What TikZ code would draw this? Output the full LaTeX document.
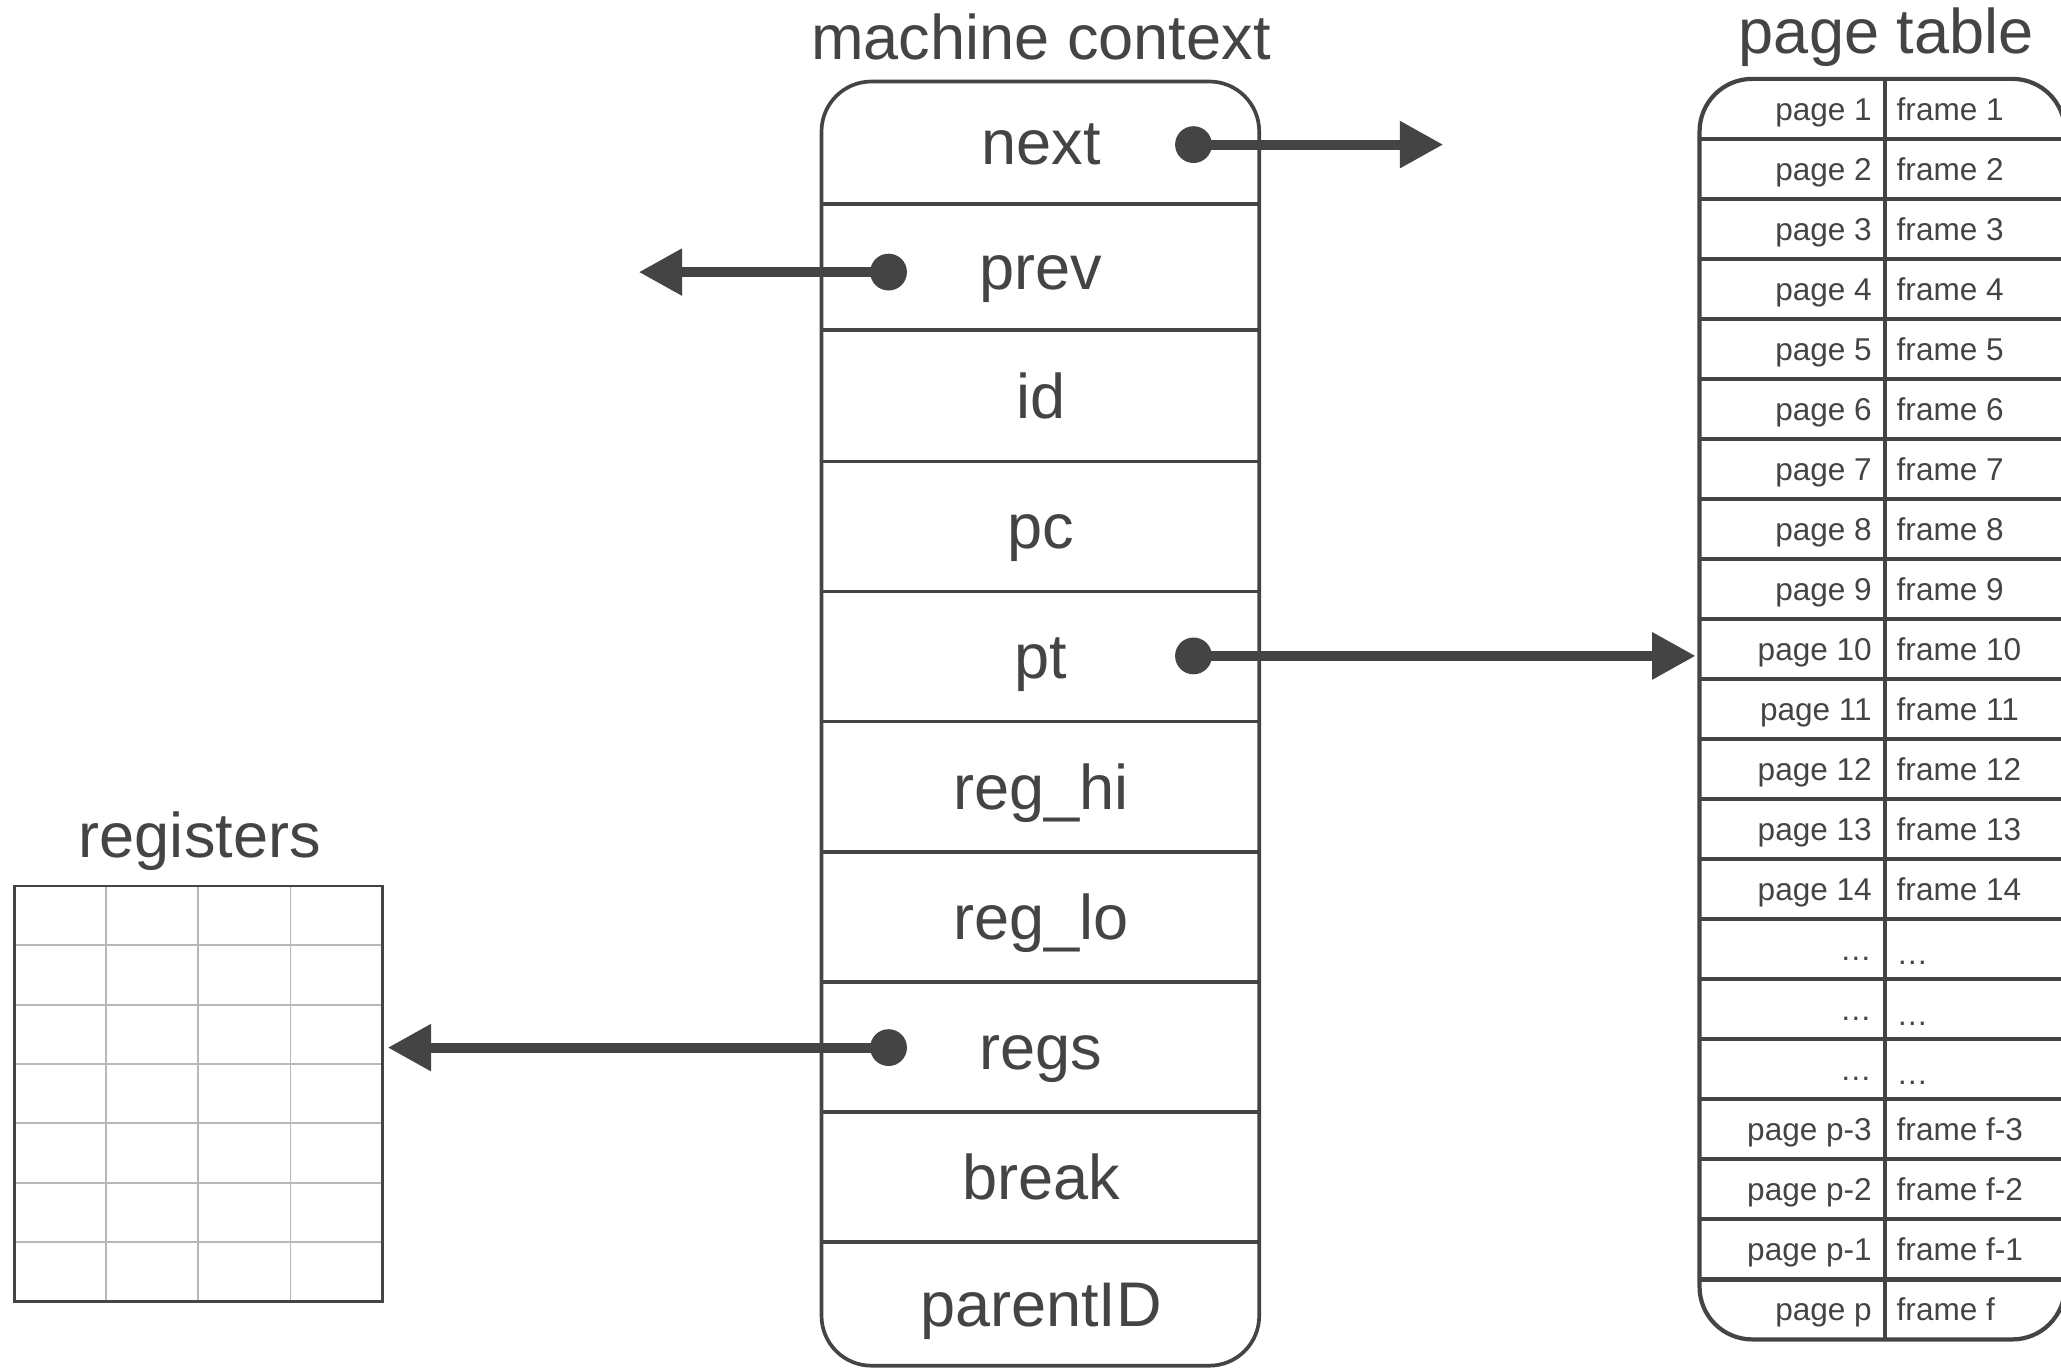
\documentclass[tikz,border=0pt]{standalone}
\usepackage{fontspec}
\setmainfont{Liberation Sans}
\usetikzlibrary{arrows.meta}
\definecolor{ink}{HTML}{444444}
\definecolor{gridgray}{HTML}{B8B8B8}
\begin{document}
\begin{tikzpicture}[x=0.5pt,y=-0.5pt,
  every node/.style={inner sep=0pt, outer sep=0pt, text=ink},
  big/.style={font=\fontsize{24pt}{28pt}\selectfont},
  small/.style={font=\fontsize{12pt}{14pt}\selectfont},
  boxline/.style={draw=ink, line width=1.4pt},
  tabline/.style={draw=ink, line width=1.6pt},
  ptr/.style={draw=ink, line width=3.75pt, -{Triangle[length=16.5pt,width=17pt]}},
  dot/.style={circle, fill=ink, minimum size=14pt},
]
\useasboundingbox (0,0) rectangle (1568,1041);
\fill[white] (0,0) rectangle (1568,1041);

% ---------------- machine context record ----------------
\node[big, anchor=base] (mctitle) at (792,45) {machine context};
\node[boxline, rounded corners=19pt, minimum width=166.5pt, minimum height=488.5pt] (mc) at (791.5,550.5) {};
\foreach \y in {155,251,351,450,549,648,747,846,945}
  \draw[boxline] (mc.west |- 0,\y) -- (mc.east |- 0,\y);
\foreach \name/\txt/\c in {next/next/108.5, prev/prev/203, id/id/301, pc/pc/400.5,
    pt/pt/499.5, reghi/reg\_hi/598.5, reglo/reg\_lo/697.5, regs/regs/796.5,
    brk/break/895.5, parent/parentID/992}
  \node[big, anchor=base] (f-\name) at (792,\c+17) {\txt};

% ---------------- pointers ----------------
\node[dot] (dnext) at (908,110) {};
\node[dot] (dprev) at (676,207) {};
\node[dot] (dpt)   at (908,499) {};
\node[dot] (dregs) at (676,797) {};
\coordinate (nextend) at (1098,110);
\coordinate (prevend) at (486,207);

% ---------------- page table ----------------
\node[big, anchor=base] (pttitle) at (1435,41) {page table};
\node[tabline, rounded corners=20pt, minimum width=139pt, minimum height=479.5pt] (ptab) at (1432,539.5) {};
\foreach \i [evaluate=\i as \yy using 60+\i*45.667] in {1,...,20}
  \draw[tabline] (ptab.west |- 0,\yy) -- (ptab.east |- 0,\yy);
\draw[tabline] (1434,0 |- ptab.north) -- (1434,0 |- ptab.south);
\foreach \pg/\fr/\dy [count=\k, evaluate=\k as \yb using 60+(\k-0.5)*45.667+8.5] in {
    page 1/frame 1/0, page 2/frame 2/0, page 3/frame 3/0, page 4/frame 4/0,
    page 5/frame 5/0, page 6/frame 6/0, page 7/frame 7/0, page 8/frame 8/0,
    page 9/frame 9/0, page 10/frame 10/0, page 11/frame 11/0, page 12/frame 12/0,
    page 13/frame 13/0, page 14/frame 14/0, …/…/3, …/…/4, …/…/3,
    page p-3/frame f-3/0, page p-2/frame f-2/0, page p-1/frame f-1/0, page p/frame f/0} {
  \node[small, anchor=base east] (pg\k) at (1424,\yb) {\pg};
  \node[small, anchor=base west] (fr\k) at (1443,\yb+\dy) {\fr};
}

% ---------------- registers ----------------
\node[big, anchor=base] (regtitle) at (152,652) {registers};
\node[minimum width=140pt, minimum height=158pt] (reggrid) at (151,832) {};
\foreach \x in {81,151,221}
  \draw[gridgray, line width=0.75pt] (\x,0 |- reggrid.north) -- (\x,0 |- reggrid.south);
\foreach \i [evaluate=\i as \yy using 674+\i*45.143] in {1,...,6}
  \draw[gridgray, line width=0.75pt] (reggrid.west |- 0,\yy) -- (reggrid.east |- 0,\yy);
\draw[ink, line width=1pt] (reggrid.south west) rectangle (reggrid.north east);

% ---------------- connectors ----------------
\draw[ptr] (dnext.center) -- (nextend);
\draw[ptr] (dprev.center) -- (prevend);
\draw[ptr, shorten >=1.5pt] (dpt.center) -- (dpt.center -| ptab.west);
\draw[ptr, shorten >=2pt] (dregs.center) -- (dregs.center -| reggrid.east);
\end{tikzpicture}
\end{document}
